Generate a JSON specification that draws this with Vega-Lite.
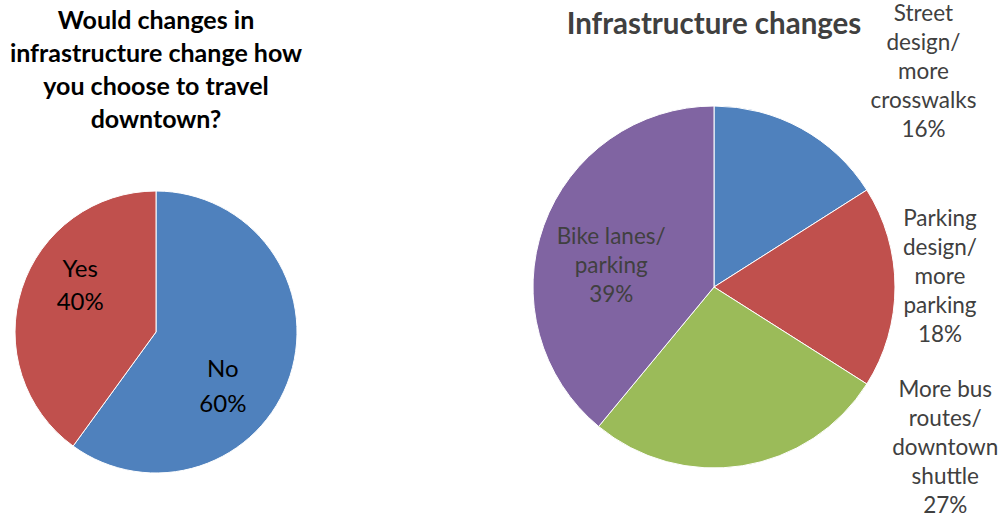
{
  "$schema": "https://vega.github.io/schema/vega-lite/v6.json",
  "autosize": {"type": "none"},
  "padding": {"left": 0, "top": 147, "right": 1003, "bottom": 370},
  "background": "white",
  "bounds": "flush",
  "spacing": 217,
  "config": {"view": {"stroke": null}},
  "resolve": {"scale": {"color": "independent", "theta": "independent"}},
  "hconcat": [
    {
      "width": 312,
      "height": 370,
      "title": {
        "text": ["Would changes in", "infrastructure change how", "you choose to travel", "downtown?"],
        "font": "Lato", "fontSize": 25, "fontWeight": "bold", "color": "#000000",
        "lineHeight": 33, "anchor": "middle", "frame": "group", "offset": 14
      },
      "data": {"values": [
        {"answer": "No", "share": 60, "rank": 1},
        {"answer": "Yes", "share": 40, "rank": 2}
      ]},
      "transform": [{"calculate": "datum.answer + '\\n' + datum.share + '%'", "as": "label"}],
      "encoding": {
        "theta": {"field": "share", "type": "quantitative", "stack": true},
        "order": {"field": "rank", "type": "quantitative"}
      },
      "layer": [
        {
          "mark": {"type": "arc", "outerRadius": 141, "stroke": "#ffffff", "strokeWidth": 1},
          "encoding": {"color": {"field": "answer", "type": "nominal", "scale": {"domain": ["No", "Yes"], "range": ["#4F81BD", "#C0504D"]}, "legend": null}}
        },
        {
          "mark": {"type": "text", "radius": 85, "dx": 5, "dy": -36, "font": "Lato", "fontSize": 24, "lineBreak": "\n", "lineHeight": 33, "color": "#000000", "align": "center", "baseline": "middle"},
          "encoding": {"detail": {"field": "answer"}, "text": {"condition": {"test": "datum.answer === 'Yes'", "field": "label"}, "value": ""}}
        },
        {
          "mark": {"type": "text", "radius": 85, "dx": -14, "dy": 12, "font": "Lato", "fontSize": 24, "lineBreak": "\n", "lineHeight": 35, "color": "#000000", "align": "center", "baseline": "middle"},
          "encoding": {"detail": {"field": "answer"}, "text": {"condition": {"test": "datum.answer === 'No'", "field": "label"}, "value": ""}}
        }
      ]
    },
    {
      "width": 370,
      "height": 280,
      "title": {
        "text": "Infrastructure changes",
        "font": "Lato", "fontSize": 29.5, "fontWeight": "bold", "color": "#404040",
        "anchor": "middle", "frame": "group", "offset": -38
      },
      "data": {"values": [
        {"category": "Street\ndesign/\nmore\ncrosswalks", "share": 16, "rank": 1},
        {"category": "Parking\ndesign/\nmore\nparking", "share": 18, "rank": 2},
        {"category": "More bus\nroutes/\ndowntown\nshuttle", "share": 27, "rank": 3},
        {"category": "Bike lanes/\nparking", "share": 39, "rank": 4}
      ]},
      "transform": [{"calculate": "datum.category + '\\n' + datum.share + '%'", "as": "label"}],
      "encoding": {
        "theta": {"field": "share", "type": "quantitative", "stack": true},
        "order": {"field": "rank", "type": "quantitative"}
      },
      "layer": [
        {
          "mark": {"type": "arc", "outerRadius": 181, "stroke": "#ffffff", "strokeWidth": 1},
          "encoding": {"color": {"field": "category", "type": "nominal", "scale": {"domain": ["Street\ndesign/\nmore\ncrosswalks", "Parking\ndesign/\nmore\nparking", "More bus\nroutes/\ndowntown\nshuttle", "Bike lanes/\nparking"], "range": ["#4F81BD", "#C0504D", "#9BBB59", "#8064A2"]}, "legend": null}}
        },
        {
          "mark": {"type": "text", "radius": 250, "dx": 89, "dy": -54, "font": "Lato", "fontSize": 22.5, "lineBreak": "\n", "lineHeight": 29, "color": "#404040", "align": "center", "baseline": "middle"},
          "encoding": {"detail": {"field": "rank"}, "text": {"condition": {"test": "datum.rank === 1", "field": "label"}, "value": ""}}
        },
        {
          "mark": {"type": "text", "radius": 226, "dx": 0, "dy": -68, "font": "Lato", "fontSize": 22.5, "lineBreak": "\n", "lineHeight": 29, "color": "#404040", "align": "center", "baseline": "middle"},
          "encoding": {"detail": {"field": "rank"}, "text": {"condition": {"test": "datum.rank === 2", "field": "label"}, "value": ""}}
        },
        {
          "mark": {"type": "text", "radius": 200, "dx": 200, "dy": -95, "font": "Lato", "fontSize": 22.5, "lineBreak": "\n", "lineHeight": 29, "color": "#404040", "align": "center", "baseline": "middle"},
          "encoding": {"detail": {"field": "rank"}, "text": {"condition": {"test": "datum.rank === 3", "field": "label"}, "value": ""}}
        },
        {
          "mark": {"type": "text", "radius": 105, "dx": -4, "dy": -14, "font": "Lato", "fontSize": 22.5, "lineBreak": "\n", "lineHeight": 29, "color": "#404040", "align": "center", "baseline": "middle"},
          "encoding": {"detail": {"field": "rank"}, "text": {"condition": {"test": "datum.rank === 4", "field": "label"}, "value": ""}}
        }
      ]
    }
  ]
}
